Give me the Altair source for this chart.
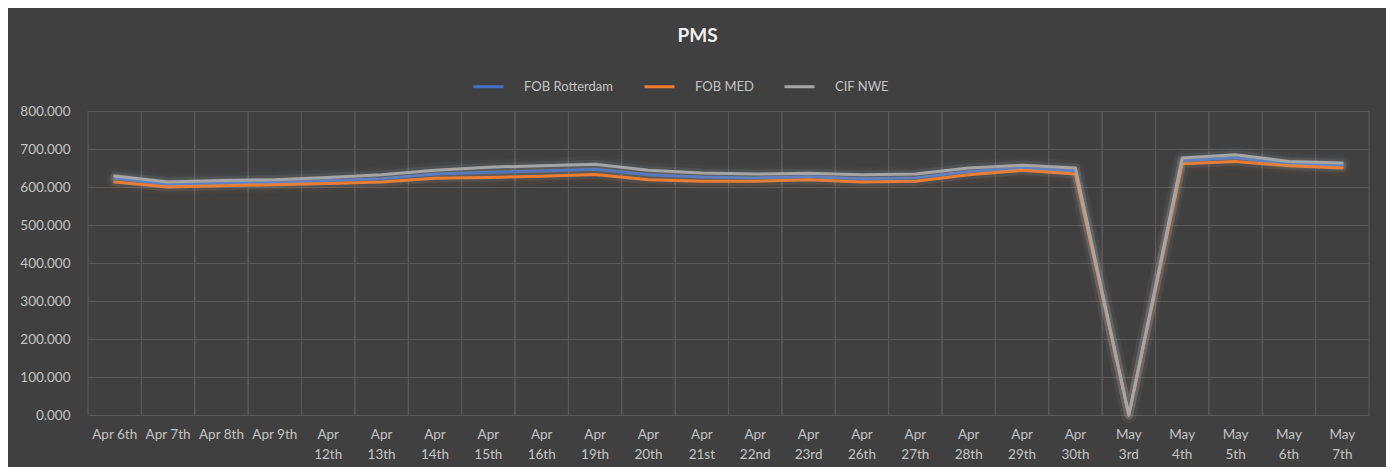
import altair as alt
import pandas as pd

dates = ["Apr 6th", "Apr 7th", "Apr 8th", "Apr 9th", "Apr 12th", "Apr 13th",
         "Apr 14th", "Apr 15th", "Apr 16th", "Apr 19th", "Apr 20th", "Apr 21st",
         "Apr 22nd", "Apr 23rd", "Apr 26th", "Apr 27th", "Apr 28th", "Apr 29th",
         "Apr 30th", "May 3rd", "May 4th", "May 5th", "May 6th", "May 7th"]
fob_rotterdam = [623, 607, 611, 612, 617, 622, 634, 639, 642, 647, 632, 626,
                 624, 627, 622, 624, 641, 650, 642, 0, 669, 677, 661, 657]
fob_med = [613, 600, 603, 606, 609, 613, 623, 625, 628, 633, 619, 615,
           615, 619, 613, 615, 632, 644, 634, 0, 661, 667, 656, 650]
cif_nwe = [629, 613, 617, 619, 625, 632, 644, 652, 656, 660, 644, 637,
           634, 636, 632, 634, 650, 657, 650, 0, 676, 685, 667, 663]
series_names = ["FOB Rotterdam", "FOB MED", "CIF NWE"]
series_colors = ["#4472C4", "#ED7D31", "#A5A5A5"]
y_ticks = [0, 100, 200, 300, 400, 500, 600, 700, 800]

rows = []
for name, vals in zip(series_names, [fob_rotterdam, fob_med, cif_nwe]):
    for d, v in zip(dates, vals):
        rows.append({"date": d, "series": name, "value": v})
df = pd.DataFrame(rows)
cats = pd.DataFrame({"date": dates})

W, H = 1281, 304
FONT = "Lato"
LABEL_COLOR = "#c4c4c4"
GRID_COLOR = "#5a5a5a"

xscale = alt.Scale(type="band", domain=dates, paddingInner=0, paddingOuter=0)
yscale = alt.Scale(domain=[0, 800], nice=False)

xaxis = alt.Axis(
    labelExpr="(length(datum.label) <= 7 && slice(datum.label, 0, 3) == 'Apr') ? datum.label : split(datum.label, ' ')",
    labelAngle=0, grid=False, ticks=False, domain=False, labelPadding=12,
    labelLineHeight=20, labelColor=LABEL_COLOR, labelFont=FONT, labelFontSize=13.5,
    labelOverlap=False, labelLimit=300, bandPosition=0.5, labelBaseline="top",
)
yaxis = alt.Axis(
    values=y_ticks, format=".3f", grid=True, gridColor=GRID_COLOR, ticks=False,
    domain=False, labelPadding=18, labelColor=LABEL_COLOR, labelFont=FONT,
    labelFontSize=13.5,
)


def X(bp):
    return alt.X("date:N", scale=xscale, bandPosition=bp, title=None, axis=xaxis)


def Y():
    return alt.Y("value:Q", scale=yscale, title=None, axis=yaxis)


grid_left = alt.Chart(cats).mark_rule(color=GRID_COLOR, strokeWidth=1).encode(
    x=X(0), y=alt.Y(datum=800, scale=yscale, axis=yaxis, title=None), y2=alt.Y2(datum=0)
)
grid_right = alt.Chart(cats).mark_rule(color=GRID_COLOR, strokeWidth=1).encode(
    x=X(1), y=alt.Y(datum=800, scale=yscale, axis=yaxis, title=None), y2=alt.Y2(datum=0)
)

legend = alt.Legend(
    title=None, orient="none", legendX=384, legendY=-41, direction="horizontal",
    symbolType="stroke", symbolStrokeWidth=3, symbolSize=900, labelOffset=19,
    columnPadding=24, labelFontSize=13, labelColor=LABEL_COLOR, labelFont=FONT,
)

layers = [grid_left, grid_right]
for name, col in zip(series_names, series_colors):
    base = alt.Chart(df).transform_filter(alt.datum.series == name)
    glow1 = base.mark_line(strokeWidth=16, opacity=0.05, color=col,
                           strokeJoin="round", strokeCap="round").encode(x=X(0.5), y=Y())
    glow2 = base.mark_line(strokeWidth=9, opacity=0.07, color="#e0e0e0",
                           strokeJoin="round", strokeCap="round").encode(x=X(0.5), y=Y())
    main = base.mark_line(strokeWidth=3, strokeJoin="round", strokeCap="round").encode(
        x=X(0.5), y=Y(),
        color=alt.Color("series:N", scale=alt.Scale(domain=series_names, range=series_colors),
                        legend=legend),
    )
    layers += [glow1, glow2, main]

chart = alt.layer(*layers).properties(
    width=W, height=H,
    title=alt.TitleParams("PMS", anchor="middle", dx=-31, offset=24, fontSize=19,
                          fontWeight="bold", color="#f2f2f2", font=FONT),
    background="#404040",
    padding={"left": 80, "top": 103, "right": 17, "bottom": 52},
    autosize=alt.AutoSizeParams(type="none"),
).configure_view(stroke=None)

chart.save("out.html", embed_options={"renderer": "svg", "actions": False})
